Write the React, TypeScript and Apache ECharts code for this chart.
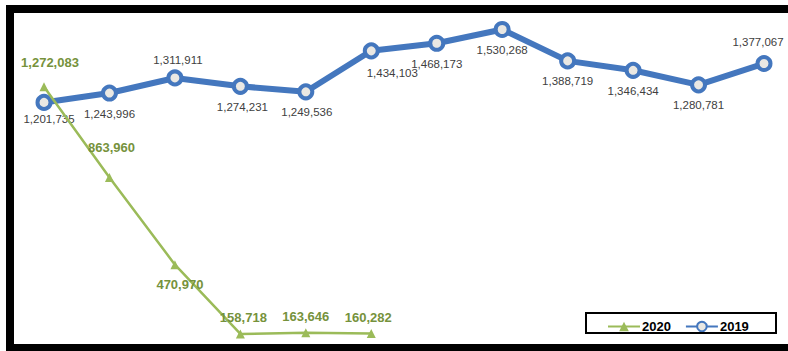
import React, { useEffect, useRef } from "react";
import * as echarts from "echarts";

const months = ["1", "2", "3", "4", "5", "6", "7", "8", "9", "10", "11", "12"];
const values2019 = [1201735, 1243996, 1311911, 1274231, 1249536, 1434103, 1468173, 1530268, 1388719, 1346434, 1280781, 1377067];
const values2020 = [1272083, 863960, 470970, 158718, 163646, 160282];
const seriesNames = ["2020", "2019"];

const fmt = (v: number) => v.toLocaleString("en-US");

export default function App() {
  const ref = useRef<HTMLDivElement>(null);
  useEffect(() => {
    if (!ref.current) return;
    const chart = echarts.init(ref.current, null, { renderer: "svg" });
    const blueLabel = (i: number) => {
      const top = i === 2 || i === 11;
      const offsets: Record<number, number> = { 0: 5, 2: 3, 3: 2, 4: 1, 5: 21, 11: -6 };
      let distance = top ? 3 : 6;
      if (i === 0) distance = 2;
      if (i === 11) distance = 7;
      if (i === 5) distance = 8;
      return {
        position: top ? "top" : "bottom",
        distance,
        offset: [offsets[i] || 0, 0],
      };
    };
    const greenLabel = (i: number) => {
      if (i === 0) return { position: "top", distance: 13, offset: [6, 0] };
      if (i === 1) return { position: "top", distance: 19, offset: [2, 0] };
      if (i === 2) return { position: "bottom", distance: 9, offset: [5, 0] };
      return { position: "top", distance: 5, offset: [i === 3 ? 3 : i === 5 ? -3 : 0, 0] };
    };
    chart.setOption({
      animation: false,
      backgroundColor: "#ffffff",
      grid: { left: 44, right: 24, top: 14, height: 333 },
      xAxis: {
        type: "category",
        data: months,
        boundaryGap: false,
        show: false,
      },
      yAxis: {
        type: "value",
        min: 100000,
        max: 1600000,
        show: false,
        splitLine: { show: false },
      },
      legend: {
        data: seriesNames,
        left: 602,
        top: 315,
        itemWidth: 32,
        itemHeight: 12,
        itemGap: 14,
        textStyle: { fontFamily: "Arial, Liberation Sans", fontSize: 13, fontWeight: "bold", color: "#000", padding: [0, 0, 0, -3] },
      },
      graphic: [
        {
          type: "rect",
          shape: { x: 10, y: 9, width: 800, height: 339 },
          style: { fill: "none", stroke: "#000", lineWidth: 8 },
          z: 100,
        },
        {
          type: "rect",
          shape: { x: 586, y: 313, width: 190, height: 20 },
          style: { fill: "none", stroke: "#000", lineWidth: 2 },
          z: 100,
        },
      ],
      series: [
        {
          name: "2019",
          type: "line",
          data: values2019.map((v, i) => ({ value: v, label: blueLabel(i) })),
          symbol: "circle",
          symbolSize: 13,
          lineStyle: { color: "#4477BE", width: 6 },
          itemStyle: { color: "#EAE8E3", borderColor: "#4477BE", borderWidth: 4 },
          label: {
            show: true,
            formatter: (p: any) => fmt(p.value),
            fontFamily: "Arial, Liberation Sans",
            fontSize: 11.5,
            color: "#404040",
          },
          z: 2,
        },
        {
          name: "2020",
          type: "line",
          data: values2020.map((v, i) => ({ value: v, label: greenLabel(i) })),
          symbol: "triangle",
          symbolSize: 9,
          lineStyle: { color: "#9BBB59", width: 2.5 },
          itemStyle: { color: "#9BBB59" },
          label: {
            show: true,
            formatter: (p: any) => fmt(p.value),
            fontFamily: "Arial, Liberation Sans",
            fontSize: 13,
            fontWeight: "bold",
            color: "#76923C",
          },
          z: 3,
        },
      ],
    });
    return () => chart.dispose();
  }, []);
  return (
    <div
      ref={ref}
      style={{ position: "fixed", left: 0, top: 0, width: 788, height: 351 }}
    />
  );
}
